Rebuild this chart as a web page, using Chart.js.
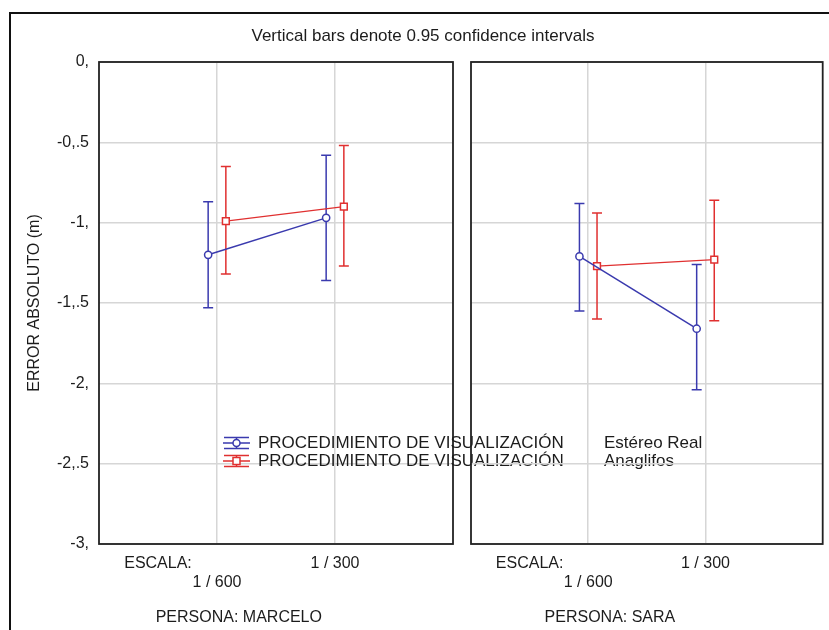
<!DOCTYPE html>
<html>
<head>
<meta charset="utf-8">
<script src="https://cdn.jsdelivr.net/npm/chart.js@4.4.1/dist/chart.umd.min.js"></script>
<style>
  html, body { margin: 0; padding: 0; background: #fff; }
  #wrap { position: relative; width: 829px; height: 630px; overflow: hidden; background: #fff; }
  #frame { position: absolute; left: 9px; top: 12px; width: 900px; height: 700px;
           border-top: 2px solid #111; border-left: 2.5px solid #111; }
  canvas { position: absolute; left: 0; top: 0; }
</style>
</head>
<body>
<div id="wrap">
  <div id="frame"></div>
  <canvas id="marcelo" width="829" height="630"></canvas>
  <canvas id="sara" width="829" height="630"></canvas>
</div>
<script>
(function(){
  /* ── Data ── */
  const categories   = ['1 / 600', '1 / 300'];
  const factorLabel  = 'ESCALA:';
  const yTickValues  = [0, -0.5, -1, -1.5, -2, -2.5, -3];
  const yTickLabels  = ['0,', '-0,.5', '-1,', '-1,.5', '-2,', '-2,.5', '-3,'];
  const seriesNames  = ['Estéreo Real', 'Anaglifos'];
  const legendFactor = 'PROCEDIMIENTO DE VISUALIZACIÓN';
  const chartTitle   = 'Vertical bars denote 0.95 confidence intervals';
  const yTitle       = 'ERROR ABSOLUTO (m)';

  // PERSONA: MARCELO
  const marceloEstereoMean   = [-1.20, -0.97];
  const marceloEstereoLow    = [-1.53, -1.36];
  const marceloEstereoHigh   = [-0.87, -0.58];
  const marceloAnaglifosMean = [-0.99, -0.90];
  const marceloAnaglifosLow  = [-1.32, -1.27];
  const marceloAnaglifosHigh = [-0.65, -0.52];

  // PERSONA: SARA
  const saraEstereoMean   = [-1.21, -1.66];
  const saraEstereoLow    = [-1.55, -2.04];
  const saraEstereoHigh   = [-0.88, -1.26];
  const saraAnaglifosMean = [-1.27, -1.23];
  const saraAnaglifosLow  = [-1.60, -1.61];
  const saraAnaglifosHigh = [-0.94, -0.86];

  /* ── Styles ── */
  const BLUE = '#3a3aae';
  const RED  = '#e03030';
  const GRID = '#d6d6d6';
  const INK  = '#1c1c1c';
  const FONT = "'Liberation Sans', Arial, sans-serif";
  const DODGE = 0.075;   // side-by-side shift of the two series, axis units

  Chart.defaults.font.family = FONT;
  Chart.defaults.font.size = 16;
  Chart.defaults.color = INK;

  /* ── Plugins ── */
  const errorBars = {
    id: 'errorBars',
    beforeDatasetsDraw(chart, args, opts) {
      const { ctx, scales: { x, y } } = chart;
      chart.data.datasets.forEach(ds => {
        ctx.save();
        ctx.strokeStyle = ds.borderColor;
        ctx.lineWidth = opts.width || 1.5;
        ds.data.forEach((pt, i) => {
          const px = x.getPixelForValue(pt.x);
          const top = y.getPixelForValue(ds.errHigh[i]);
          const bot = y.getPixelForValue(ds.errLow[i]);
          const c = opts.cap || 5;
          ctx.beginPath();
          ctx.moveTo(px, top); ctx.lineTo(px, bot);
          ctx.moveTo(px - c, top); ctx.lineTo(px + c, top);
          ctx.moveTo(px - c, bot); ctx.lineTo(px + c, bot);
          ctx.stroke();
        });
        ctx.restore();
      });
    }
  };

  const panelBox = {
    id: 'panelBox',
    afterDraw(chart, args, opts) {
      const { ctx, chartArea: a } = chart;
      ctx.save();
      ctx.strokeStyle = opts.color || '#222';
      ctx.lineWidth = opts.width || 1.8;
      ctx.strokeRect(a.left, a.top, a.right - a.left, a.bottom - a.top);
      // caption under the panel
      if (opts.caption) {
        ctx.fillStyle = INK;
        ctx.font = '16px ' + FONT;
        ctx.textAlign = 'center';
        ctx.textBaseline = 'middle';
        ctx.fillText(opts.caption, a.left + opts.captionAt * (a.right - a.left), opts.captionY);
      }
      ctx.restore();
    }
  };

  const headAndLegend = {
    id: 'headAndLegend',
    afterDraw(chart, args, opts) {
      if (!opts.show) return;
      const { ctx } = chart;
      ctx.save();
      ctx.fillStyle = INK;
      ctx.textBaseline = 'middle';
      ctx.font = '17px ' + FONT;
      ctx.textAlign = 'center';
      ctx.fillText(chartTitle, 423, 36);

      ctx.textAlign = 'left';
      chart.data.datasets.forEach((ds, i) => {
        const cy = 443 + i * 18, x0 = 223, w = 27, mid = x0 + w / 2;
        ctx.strokeStyle = ds.borderColor;
        ctx.lineWidth = 1.5;
        ctx.beginPath();
        ctx.moveTo(x0, cy); ctx.lineTo(x0 + w, cy);
        ctx.moveTo(x0 + 1, cy - 5.5); ctx.lineTo(x0 + w - 1, cy - 5.5);
        ctx.moveTo(x0 + 1, cy + 5.5); ctx.lineTo(x0 + w - 1, cy + 5.5);
        ctx.moveTo(mid, cy - 5.5); ctx.lineTo(mid, cy + 5.5);
        ctx.stroke();
        ctx.fillStyle = '#fff';
        ctx.beginPath();
        if (ds.pointStyle === 'rect') ctx.rect(mid - 3.5, cy - 3.5, 7, 7);
        else ctx.arc(mid, cy, 3.5, 0, Math.PI * 2);
        ctx.fill(); ctx.stroke();
        ctx.fillStyle = INK;
        ctx.font = '17px ' + FONT;
        ctx.fillText(legendFactor, 258, cy);
        ctx.fillText(ds.label, 604, cy);
      });
      ctx.restore();
    }
  };

  /* ── Builders ── */
  function series(label, color, style, mean, low, high, shift, lw) {
    return {
      label,
      data: mean.map((v, i) => ({ x: i + 1 + shift, y: v })),
      errLow: low,
      errHigh: high,
      borderColor: color,
      borderWidth: lw,
      backgroundColor: '#fff',
      pointStyle: style,
      pointRadius: style === 'rect' ? 4.8 : 3.6,
      pointBorderWidth: 1.5,
      pointBackgroundColor: '#fff',
      tension: 0,
      fill: false,
    };
  }

  function xLabel(value) {
    if (value === 0.5) return factorLabel;
    const i = Math.round(value) - 1;
    return i % 2 === 0 ? ['', categories[i]] : categories[i];
  }

  function makePanel(canvasId, datasets, opts) {
    return new Chart(document.getElementById(canvasId), {
      type: 'line',
      data: { datasets },
      plugins: [errorBars, panelBox, headAndLegend],
      options: {
        responsive: false,
        animation: false,
        layout: { padding: { left: opts.padLeft, right: opts.padRight, top: 62, bottom: 0 } },
        plugins: {
          legend: { display: false },
          tooltip: { enabled: false },
          errorBars: { width: 1.5, cap: 5 },
          panelBox: { color: '#222', width: 1.8, caption: opts.caption, captionAt: 0.395, captionY: 618 },
          headAndLegend: { show: opts.head },
        },
        scales: {
          x: {
            type: 'linear', min: 0, max: 3,
            afterBuildTicks: s => { s.ticks = [0.5, 1, 2].map(v => ({ value: v })); },
            afterFit: s => { s.height = 86; },
            grid: {
              drawTicks: false,
              lineWidth: 1.5,
              color: c => (c.tick && (c.tick.value === 1 || c.tick.value === 2)) ? GRID : 'rgba(0,0,0,0)',
            },
            border: { display: false },
            ticks: {
              autoSkip: false, maxRotation: 0, padding: 9.5,
              font: { size: 16 },
              callback: v => xLabel(v),
            },
          },
          y: {
            type: 'linear', min: -3, max: 0,
            afterBuildTicks: s => { s.ticks = yTickValues.map(v => ({ value: v })); },
            afterFit: s => { s.width = opts.yWidth; },
            grid: { drawTicks: false, lineWidth: 1.5, color: GRID },
            border: { display: false },
            ticks: {
              display: opts.head, padding: 10,
              font: { size: 16 },
              callback: v => yTickLabels[yTickValues.indexOf(v)],
            },
            title: {
              display: opts.head, text: yTitle,
              font: { size: 16 }, padding: { top: 25, bottom: 0 },
            },
          },
        },
      },
    });
  }

  makePanel('marcelo', [
    series(seriesNames[0], BLUE, 'circle', marceloEstereoMean, marceloEstereoLow, marceloEstereoHigh, -DODGE, 1.5),
    series(seriesNames[1], RED, 'rect', marceloAnaglifosMean, marceloAnaglifosLow, marceloAnaglifosHigh, DODGE, 1.2),
  ], { padLeft: 0, padRight: 376, yWidth: 99, head: true, caption: 'PERSONA: MARCELO' });

  makePanel('sara', [
    series(seriesNames[0], BLUE, 'circle', saraEstereoMean, saraEstereoLow, saraEstereoHigh, -DODGE, 1.5),
    series(seriesNames[1], RED, 'rect', saraAnaglifosMean, saraAnaglifosLow, saraAnaglifosHigh, DODGE, 1.2),
  ], { padLeft: 471, padRight: 4, yWidth: 0, head: false, caption: 'PERSONA: SARA' });
})();
</script>
</body>
</html>
